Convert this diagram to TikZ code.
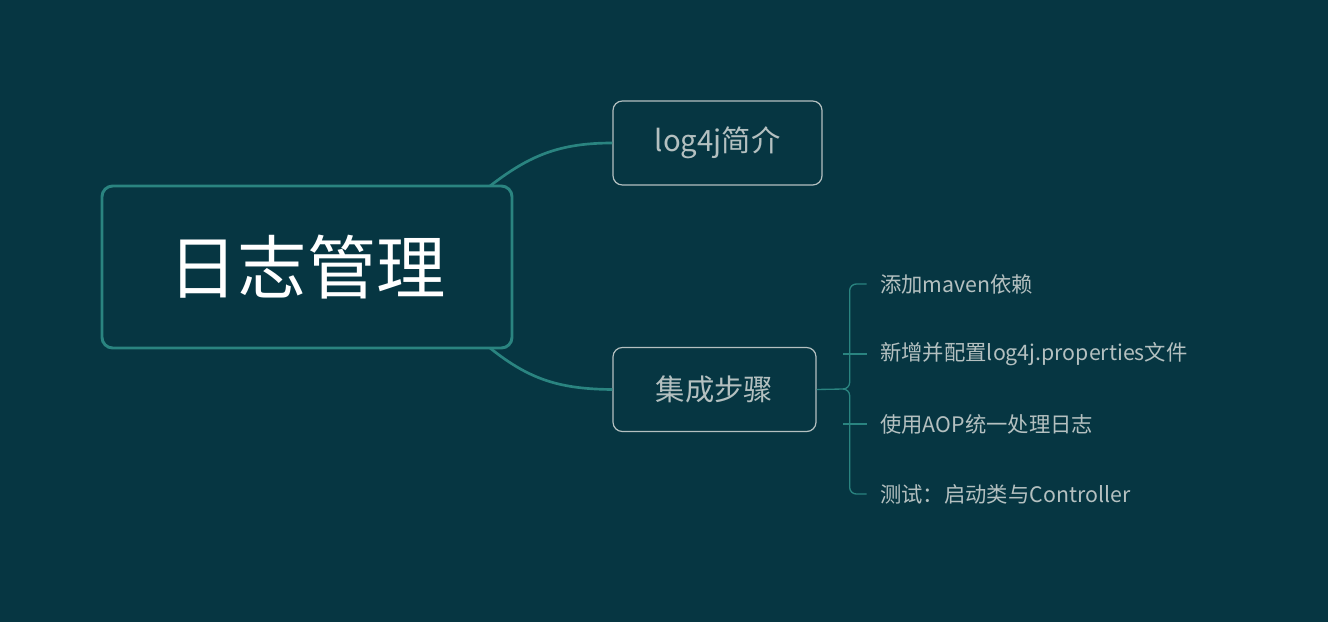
\documentclass[tikz,border=0pt]{standalone}
\usepackage{fontspec}
\setmainfont{Noto Sans CJK SC}
\usepackage{tikz}
\usetikzlibrary{positioning}
\definecolor{bgcol}{HTML}{063642}
\definecolor{tealcol}{HTML}{2A8480}
\definecolor{greycol}{HTML}{B4C0C0}

\begin{document}
\begin{tikzpicture}[x=0.75pt,y=-0.75pt,
                      rootnode/.style={rectangle, rounded corners=8pt, draw=tealcol, line width=2.2pt, fill=bgcol, text=white, font=\fontsize{52}{60}\selectfont, minimum width=307.5pt, minimum height=121.5pt},
                      topicnode/.style={rectangle, rounded corners=7pt, draw=greycol, line width=0.9pt, text=greycol, font=\fontsize{22}{26}\selectfont, minimum height=63pt},
                      leafnode/.style={anchor=west, text=greycol, font=\fontsize{16}{20}\selectfont, inner sep=0pt},
                      branch/.style={draw=tealcol, line width=2pt},
                      twig/.style={draw=tealcol, line width=1pt, rounded corners=5pt},
                  ]
                  \fill[bgcol] (0,0) rectangle (1328,622);
                  % Nodes
                  \node[rootnode]                      (root)    at (307,267)  {日志管理};
                  \node[topicnode, minimum width=156.75pt] (intro)   at (717.5,143) {log4j简介};
                  \node[topicnode, minimum width=152.25pt] (steps)   at (714.5,389.5) {集成步骤};
                  \coordinate (hub) at (843,389);
                  \node[leafnode] (step_1) at (880,284) {添加maven依赖};
                  \node[leafnode] (step_2) at (880,354) {新增并配置log4j.properties文件};
                  \node[leafnode] (step_3) at (880,424) {使用AOP统一处理日志};
                  \node[leafnode] (step_4) at (880,494) {测试：启动类与Controller};

                  %Lines
                  \draw[branch] (490,186) .. controls (530,155) and (560,143) .. (intro.west);
                  \draw[branch] (490,348) .. controls (530,380) and (560,389) .. (steps.west);
                  \draw[twig] (steps.east) -- (hub);
                  \draw[twig] (step_1.west) ++(-10pt,0) -- ++(-17,0) |- (hub);
                  \draw[twig] (step_4.west) ++(-10pt,0) -- ++(-17,0) |- (hub);
                  \draw[twig] (step_2.west) ++(-10pt,0) -- (843,354);
                  \draw[twig] (step_3.west) ++(-10pt,0) -- (843,424);
\end{tikzpicture}
\end{document}
